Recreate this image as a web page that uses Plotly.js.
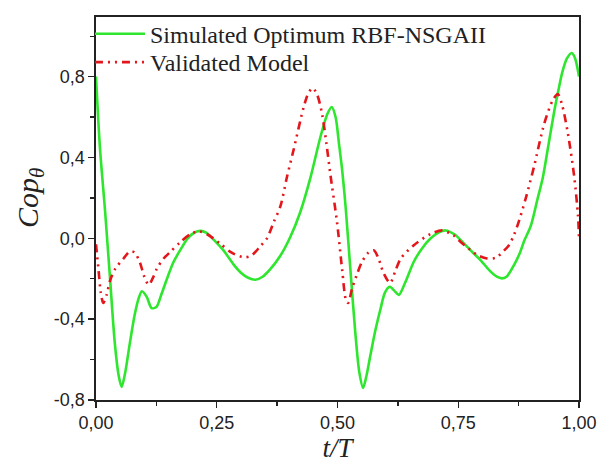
<!DOCTYPE html>
<html>
<head>
<meta charset="utf-8">
<script src="https://cdn.plot.ly/plotly-3.0.1.min.js"></script>
<style>html,body{margin:0;padding:0;background:#fff;}#chart{width:600px;height:466px;}</style>
</head>
<body>
<div id="chart"></div>
<script>
// Simulated Optimum RBF-NSGAII
const simT = [0, 0.008, 0.019, 0.029, 0.039, 0.047, 0.053, 0.06, 0.07, 0.08, 0.088, 0.095, 0.105, 0.115, 0.125, 0.135, 0.147, 0.16, 0.174, 0.19, 0.205, 0.216, 0.228, 0.245, 0.264, 0.285, 0.3, 0.315, 0.33, 0.345, 0.36, 0.382, 0.402, 0.423, 0.444, 0.465, 0.479, 0.488, 0.496, 0.503, 0.51, 0.517, 0.527, 0.537, 0.545, 0.553, 0.56, 0.568, 0.578, 0.589, 0.598, 0.608, 0.618, 0.627, 0.64, 0.658, 0.675, 0.693, 0.71, 0.724, 0.742, 0.762, 0.78, 0.797, 0.815, 0.83, 0.84, 0.85, 0.866, 0.878, 0.887, 0.9, 0.914, 0.925, 0.935, 0.949, 0.958, 0.966, 0.975, 0.985, 0.992, 1.0];
const simV = [0.8, 0.454, 0.128, -0.197, -0.52, -0.68, -0.735, -0.67, -0.52, -0.38, -0.3, -0.262, -0.29, -0.345, -0.34, -0.28, -0.2, -0.12, -0.06, 0.0, 0.03, 0.037, 0.028, -0.01, -0.06, -0.13, -0.17, -0.195, -0.205, -0.19, -0.155, -0.085, 0.005, 0.13, 0.3, 0.505, 0.615, 0.65, 0.6, 0.47, 0.33, 0.15, -0.164, -0.47, -0.66, -0.74, -0.68, -0.58, -0.46, -0.35, -0.27, -0.24, -0.26, -0.28, -0.22, -0.116, -0.05, 0.0, 0.03, 0.039, 0.02, -0.026, -0.07, -0.11, -0.16, -0.19, -0.198, -0.19, -0.13, -0.07, -0.01, 0.06, 0.193, 0.3, 0.437, 0.632, 0.74, 0.827, 0.89, 0.917, 0.89, 0.8];

// Validated Model
const valT = [0, 0.005, 0.01, 0.015, 0.022, 0.029, 0.04, 0.057, 0.07, 0.08, 0.091, 0.1, 0.109, 0.117, 0.126, 0.14, 0.154, 0.174, 0.195, 0.212, 0.23, 0.257, 0.28, 0.306, 0.322, 0.34, 0.354, 0.368, 0.382, 0.395, 0.409, 0.43, 0.44, 0.449, 0.458, 0.468, 0.477, 0.485, 0.499, 0.51, 0.517, 0.522, 0.53, 0.54, 0.55, 0.562, 0.575, 0.585, 0.595, 0.609, 0.62, 0.631, 0.658, 0.693, 0.717, 0.74, 0.755, 0.79, 0.81, 0.828, 0.845, 0.855, 0.866, 0.876, 0.89, 0.907, 0.928, 0.945, 0.956, 0.965, 0.977, 0.99, 0.998, 1.0];
const valV = [-0.03, -0.15, -0.27, -0.32, -0.28, -0.21, -0.15, -0.1, -0.065, -0.07, -0.12, -0.19, -0.23, -0.2, -0.15, -0.1, -0.067, -0.02, 0.02, 0.035, 0.02, -0.026, -0.07, -0.094, -0.085, -0.04, 0.0, 0.08, 0.16, 0.3, 0.437, 0.649, 0.72, 0.743, 0.71, 0.616, 0.47, 0.32, 0.08, -0.164, -0.3, -0.32, -0.25, -0.18, -0.12, -0.075, -0.059, -0.1, -0.17, -0.221, -0.16, -0.1, -0.034, 0.022, 0.039, 0.015, -0.018, -0.083, -0.1, -0.096, -0.06, -0.034, 0.02, 0.088, 0.2, 0.356, 0.567, 0.68, 0.714, 0.66, 0.519, 0.307, 0.11, 0.0];

const xTickVals = [0, 0.25, 0.5, 0.75, 1.0];
const xTickText = ["0,00", "0,25", "0,50", "0,75", "1,00"];
const yTickVals = [-0.8, -0.4, 0.0, 0.4, 0.8];
const yTickText = ["-0,8", "-0,4", "0,0", "0,4", "0,8"];

const serif = 'Liberation Serif, Times New Roman, serif';

const traces = [
  {x: simT, y: simV, type: 'scatter', mode: 'lines', name: 'Simulated Optimum RBF-NSGAII',
   legend: 'legend',
   line: {color: '#2ee62e', width: 2.6, shape: 'spline', smoothing: 0.8}},
  {x: valT, y: valV, type: 'scatter', mode: 'lines', name: 'Validated Model',
   legend: 'legend2',
   line: {color: '#e3161b', width: 2.6, dash: '8px,5px,2px,5px,2px,5px', shape: 'spline', smoothing: 0.8}}
];

const axisCommon = {
  showline: true, linecolor: '#222', linewidth: 1.6, mirror: true,
  ticks: 'outside', ticklen: 6, tickwidth: 1.4, tickcolor: '#222',
  showgrid: false, zeroline: false,
  tickfont: {family: 'Liberation Sans, Arial, sans-serif', size: 18, color: '#222'}
};

const legendCommon = {
  xanchor: 'left', yanchor: 'top', bgcolor: 'rgba(0,0,0,0)',
  font: {family: serif, size: 24, color: '#222'}, itemwidth: 50
};

const layout = {
  width: 600, height: 466,
  margin: {l: 96, r: 21, t: 12, b: 66},
  paper_bgcolor: '#fff', plot_bgcolor: '#fff',
  showlegend: true,
  legend: Object.assign({}, legendCommon, {x: -0.0125, y: 1.014}),
  legend2: Object.assign({}, legendCommon, {x: -0.0125, y: 0.94}),
  xaxis: Object.assign({}, axisCommon, {
    range: [0, 1], tickmode: 'array', tickvals: xTickVals, ticktext: xTickText,
    minor: {ticks: 'outside', ticklen: 4, tickwidth: 1.4, tickcolor: '#222', dtick: 0.125, tick0: 0},
    title: {text: '<i>t/T</i>', font: {family: serif, size: 27, color: '#222'}, standoff: 6}
  }),
  yaxis: Object.assign({}, axisCommon, {
    range: [-0.8, 1.095], tickmode: 'array', tickvals: yTickVals, ticktext: yTickText,
    minor: {ticks: 'outside', ticklen: 4, tickwidth: 1.4, tickcolor: '#222', dtick: 0.2, tick0: 0}
  }),
  annotations: [{
    text: '<i>Cop</i><sub><i>θ</i></sub>', textangle: -90, showarrow: false,
    xref: 'paper', yref: 'paper', x: -0.137, y: 0.527, xanchor: 'center', yanchor: 'middle',
    font: {family: serif, size: 30, color: '#222'}
  }]
};

Plotly.newPlot('chart', traces, layout, {displayModeBar: false, staticPlot: true});
</script>
</body>
</html>
